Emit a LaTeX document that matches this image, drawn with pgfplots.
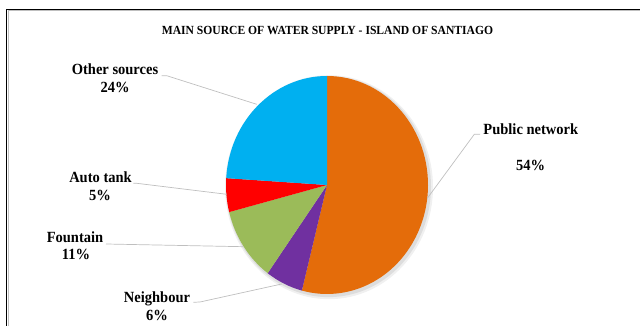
\documentclass[border=0pt]{standalone}
\usepackage{pgfplots}
\pgfplotsset{compat=1.18}
\usepackage{pgfplotstable}
\usepackage{fontspec}
\setmainfont{Liberation Serif}

\definecolor{pubnet}{HTML}{E46C0A}
\definecolor{neigh}{HTML}{7030A0}
\definecolor{fount}{HTML}{9BBB59}
\definecolor{autotank}{HTML}{FF0000}
\definecolor{other}{HTML}{00B0F0}
\definecolor{leader}{HTML}{BFBFBF}

% share of households (%) by main source, clockwise from the top
\pgfplotstableread{
share colour
54 pubnet
6  neigh
11 fount
5  autotank
24 other
}\sharetable

\newcommand\lab{\bfseries\fontsize{14.5}{17}\selectfont}

\begin{document}
\begin{tikzpicture}[x=1pt,y=1pt, txt/.style={anchor=base, yscale=1.07}]
\useasboundingbox (0,0) rectangle (640,326);

% chart frame
\draw[black!25, line width=0.8pt] (8.4,-2) -- (8.4,315.2) -- (645,315.2);
\draw[black, line width=1.4pt] (6.6,-2) -- (6.6,316.6) -- (645,316.6);

\node[txt, font=\bfseries\fontsize{11.6}{13}\selectfont] at (327.5,291) {MAIN SOURCE OF WATER SUPPLY - ISLAND OF SANTIAGO};

\begin{axis}[
  anchor=origin, at={(327pt,141pt)},
  x=101pt, y=109pt,
  xmin=-1.2, xmax=1.2, ymin=-1.2, ymax=1.2,
  hide axis, clip=false,
]
% soft shadow under the pie
\fill[black, opacity=0.06] (axis cs:0.02,-0.02) ellipse[x radius=104pt, y radius=112pt];
\fill[black, opacity=0.08] (axis cs:0.015,-0.015) ellipse[x radius=102.5pt, y radius=110.5pt];
\pgfplotstablegetrowsof{\sharetable}
\pgfmathtruncatemacro\lastrow{\pgfplotsretval-1}
\gdef\angA{90}
\pgfplotsforeachungrouped \i in {0,...,\lastrow}{
  \pgfplotstablegetelem{\i}{share}\of\sharetable
  \pgfmathsetmacro\angB{\angA-3.6*\pgfplotsretval}
  \pgfplotstablegetelem{\i}{colour}\of\sharetable
  \edef\slicecolour{\pgfplotsretval}
  \edef\cmd{\noexpand\fill[\slicecolour] (axis cs:0,0) -- (axis cs:{cos(\angA)},{sin(\angA)})
    arc[start angle=\angA, end angle=\angB, x radius=101pt, y radius=109pt] -- cycle;}
  \cmd
  \global\let\angA\angB
}
\end{axis}

% leader lines
\draw[leader, line width=0.7pt] (161.7,250.3) -- (166.7,250.3) -- (256.7,221.7);
\draw[leader, line width=0.7pt] (133.3,142.7) -- (136.7,142.7) -- (226.7,131.7);
\draw[leader, line width=0.7pt] (106,82) -- (243.3,79.3);
\draw[leader, line width=0.7pt] (193.3,23.7) -- (200,24) -- (281.7,42);
\draw[leader, line width=0.7pt] (480,191.7) -- (474.3,191.7) -- (427.3,127.7);

% slice labels
\node[txt, font=\lab] at (115,251) {Other sources};
\node[txt, font=\lab] at (115,233.7) {24\%};
\node[txt, font=\lab] at (100.5,143) {Auto tank};
\node[txt, font=\lab] at (100,125.7) {5\%};
\node[txt, font=\lab] at (75,83.7) {Fountain};
\node[txt, font=\lab] at (76,66.4) {11\%};
\node[txt, font=\lab] at (157,23) {Neighbour};
\node[txt, font=\lab] at (157,5.7) {6\%};
\node[txt, font=\lab] at (530.8,191.7) {Public network};
\node[txt, font=\lab] at (530.7,155.3) {54\%};
\end{tikzpicture}
\end{document}
